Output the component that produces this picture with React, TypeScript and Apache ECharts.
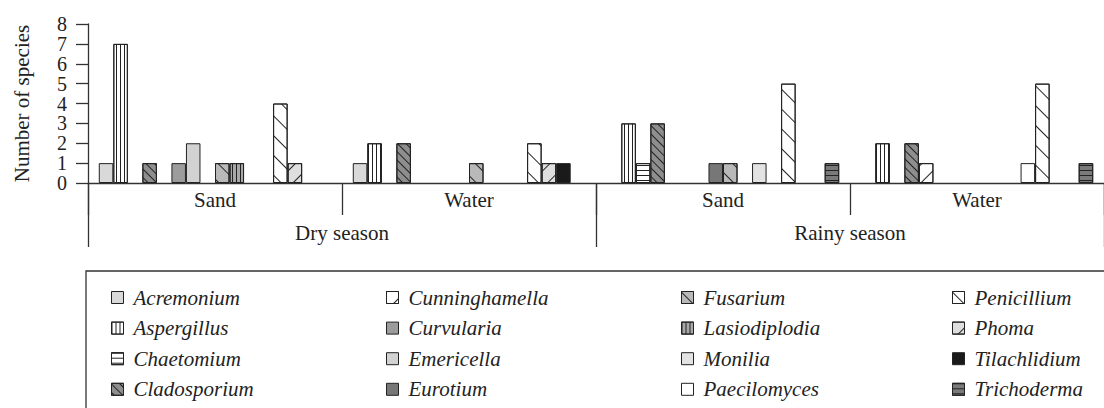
import React, { useEffect, useRef } from "react";
import * as echarts from "echarts";

const groups = ["Sand", "Water", "Sand", "Water"];
const seasons = ["Dry season", "Rainy season"];
const genera = [
  "Acremonium", "Aspergillus", "Chaetomium", "Cladosporium",
  "Cunninghamella", "Curvularia", "Emericella", "Eurotium",
  "Fusarium", "Lasiodiplodia", "Monilia", "Paecilomyces",
  "Penicillium", "Phoma", "Tilachlidium", "Trichoderma",
];
// number of species per genus, in the order of `genera`
const drySand = [1, 7, 0, 1, 0, 1, 2, 0, 1, 1, 0, 0, 4, 1, 0, 0];
const dryWater = [1, 2, 0, 2, 0, 0, 0, 0, 1, 0, 0, 0, 2, 1, 1, 0];
const rainySand = [0, 3, 1, 3, 0, 0, 0, 1, 1, 0, 1, 0, 5, 0, 0, 1];
const rainyWater = [0, 2, 0, 2, 1, 0, 0, 0, 0, 0, 0, 1, 5, 0, 0, 1];
const yTicks = { min: 0, max: 8, interval: 1 };

const FONT = "'Liberation Serif', 'Times New Roman', 'DejaVu Serif', serif";
const INK = "#222";

const vLines = (gap: number) => ({
  symbol: "rect", symbolSize: 1, color: INK,
  dashArrayX: [1, gap], dashArrayY: [1, 0], rotation: 0,
});
const hLines = (gap: number, rot = 0) => ({
  symbol: "rect", symbolSize: 1, color: INK,
  dashArrayX: [1, 0], dashArrayY: [1, gap], rotation: rot,
});
const BACK = Math.PI / 4; // "\"
const FWD = -Math.PI / 4; // "/"

const styles: any[] = [
  { color: "#d9d9d9" },
  { color: "#ffffff", decal: vLines(3) },
  { color: "#ffffff", decal: hLines(4) },
  { color: "#8e8e8e", decal: hLines(5, BACK) },
  { color: "#ffffff", decal: hLines(12, FWD) },
  { color: "#9c9c9c" },
  { color: "#d2d2d2" },
  { color: "#777777" },
  { color: "#b9b9b9", decal: hLines(12, BACK) },
  { color: "#a8a8a8", decal: vLines(3) },
  { color: "#e3e3e3" },
  { color: "#ffffff" },
  { color: "#ffffff", decal: hLines(13, BACK) },
  { color: "#dedede", decal: hLines(11, FWD) },
  { color: "#1a1a1a" },
  { color: "#7a7a7a", decal: hLines(4) },
];

const legendX = [111, 386, 681, 952];

export default function App() {
  const ref = useRef<HTMLDivElement>(null);
  useEffect(() => {
    if (!ref.current) return;
    const chart = echarts.init(ref.current, undefined, { renderer: "svg" });
    const table = [drySand, dryWater, rainySand, rainyWater];
    const axisLine = { color: "#333", width: 1.3 };
    const option: any = {
      animation: false,
      backgroundColor: "#ffffff",
      textStyle: { fontFamily: FONT },
      grid: { left: 88, top: 24, right: -12, bottom: 225 },
      xAxis: [
        {
          type: "category",
          data: groups,
          position: "bottom",
          axisLine: { show: true, lineStyle: axisLine },
          axisTick: { show: true, interval: 0, length: 32, lineStyle: axisLine },
          axisLabel: { interval: 0, fontFamily: FONT, fontSize: 21, color: INK, margin: 7, lineHeight: 20 },
        },
        {
          type: "category",
          data: seasons,
          position: "bottom",
          axisLine: { show: false },
          axisTick: { show: true, interval: 0, length: 64, lineStyle: axisLine },
          axisLabel: { interval: 0, fontFamily: FONT, fontSize: 21, color: INK, margin: 40, lineHeight: 20 },
        },
      ],
      yAxis: {
        type: "value",
        min: yTicks.min,
        max: yTicks.max,
        interval: yTicks.interval,
        axisLine: { show: true, lineStyle: axisLine },
        axisTick: { show: true, length: 12, lineStyle: axisLine },
        splitLine: { show: false },
        axisLabel: { fontFamily: FONT, fontSize: 20, color: INK, margin: 21 },
        name: "Number of species",
        nameLocation: "middle",
        nameRotate: 90,
        nameGap: 56,
        nameTextStyle: { fontFamily: FONT, fontSize: 21, color: INK },
      },
      legend: legendX.map((x, c) => ({
        orient: "vertical",
        left: x,
        top: 287,
        padding: 0,
        itemWidth: 12,
        itemHeight: 12,
        itemGap: 9.6,
        icon: "rect",
        selectedMode: false,
        data: genera.slice(c * 4, c * 4 + 4),
        itemStyle: { borderColor: INK, borderWidth: 1 },
        textStyle: {
          fontFamily: FONT, fontStyle: "italic", fontSize: 21, color: INK,
          lineHeight: 20, padding: [0, 0, 0, 5],
        },
      })),
      graphic: [
        {
          type: "rect",
          shape: { x: 86, y: 271, width: 1100, height: 200 },
          style: { fill: "none", stroke: "#333", lineWidth: 1.3 },
          silent: true,
        },
      ],
      series: genera.map((g, i) => ({
        name: g,
        type: "bar",
        xAxisIndex: 0,
        barGap: "0%",
        barCategoryGap: "8.5%",
        itemStyle: { ...styles[i], borderColor: INK, borderWidth: 1 },
        data: table.map((row) => (row[i] === 0 ? "-" : row[i])),
      })),
    };
    chart.setOption(option);
    return () => chart.dispose();
  }, []);
  return (
    <div
      ref={ref}
      style={{ position: "absolute", left: 0, top: 0, width: 1104, height: 408 }}
    />
  );
}
